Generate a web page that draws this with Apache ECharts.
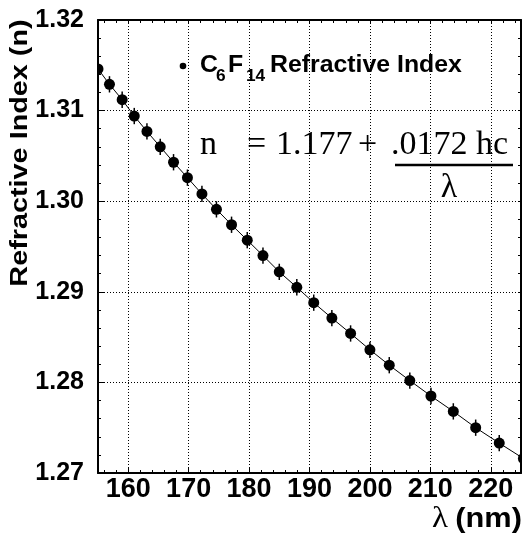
<!DOCTYPE html>
<html>
<head>
<meta charset="utf-8">
<script src="https://cdn.jsdelivr.net/npm/echarts@6/dist/echarts.min.js"></script>
<style>
  html, body { margin: 0; padding: 0; background: #fff; }
  #chart { width: 523px; height: 533px; }
</style>
</head>
<body>
<div id="chart"></div>
<script>
// C6F14 refractive index versus wavelength
const wavelength = [155.0, 156.9, 159.0, 161.0, 163.1, 165.3, 167.5, 169.8, 172.2, 174.6,
                    177.1, 179.7, 182.3, 185.0, 187.9, 190.7, 193.7, 196.8, 200.0, 203.2,
                    206.6, 210.1, 213.8, 217.5, 221.4, 225.4];
const refIndex = [1.3146, 1.3129, 1.3112, 1.3094, 1.3077, 1.3060, 1.3043, 1.3026, 1.3008, 1.2991,
                  1.2974, 1.2957, 1.2940, 1.2922, 1.2905, 1.2888, 1.2871, 1.2854, 1.2836, 1.2819,
                  1.2802, 1.2785, 1.2768, 1.2750, 1.2733, 1.2716];
const refIndexErr = [0.0009, 0.0009, 0.0009, 0.0009, 0.0009, 0.0009, 0.0009, 0.0009, 0.0009, 0.0009,
                     0.0009, 0.0009, 0.0009, 0.0009, 0.0009, 0.0009, 0.0009, 0.0009, 0.0009, 0.0009,
                     0.0009, 0.0009, 0.0009, 0.0009, 0.0009, 0.0009];

// axis tick values
const xMajor = [160, 170, 180, 190, 200, 210, 220];
const xMinor = [156, 158, 160, 162, 164, 166, 168, 170, 172, 174, 176, 178, 180, 182, 184, 186, 188,
                190, 192, 194, 196, 198, 200, 202, 204, 206, 208, 210, 212, 214, 216, 218, 220, 222, 224];
const yMajor = [1.27, 1.28, 1.29, 1.30, 1.31, 1.32];
const yMinor = [1.272, 1.274, 1.276, 1.278, 1.28, 1.282, 1.284, 1.286, 1.288, 1.29, 1.292, 1.294, 1.296, 1.298,
                1.30, 1.302, 1.304, 1.306, 1.308, 1.31, 1.312, 1.314, 1.316, 1.318];

const X_MIN = 155, X_MAX = 225, Y_MIN = 1.27, Y_MAX = 1.32;

const SANS = '"Liberation Sans", Arial, Helvetica, sans-serif';
const SERIF = '"Liberation Serif", "Times New Roman", serif';

const points = wavelength.map((w, i) => [w, refIndex[i], refIndexErr[i]]);
const fitLine = wavelength.map((w, i) => [w, refIndex[i]]);

const axisColor = '#000';
const dotted = { color: '#000', width: 1, type: [1, 2] };

function xAxisBase(extra) {
  return Object.assign({
    type: 'value', min: X_MIN, max: X_MAX,
    axisLine: { show: false, onZero: false },
    axisLabel: { show: false },
    splitLine: { show: false },
    axisTick: { show: false }
  }, extra);
}
function yAxisBase(extra) {
  return Object.assign({
    type: 'value', min: Y_MIN, max: Y_MAX,
    axisLine: { show: false, onZero: false },
    axisLabel: { show: false },
    splitLine: { show: false },
    axisTick: { show: false }
  }, extra);
}

const chart = echarts.init(document.getElementById('chart'), null, { renderer: 'canvas' });

chart.setOption({
  animation: false,
  backgroundColor: '#fff',
  grid: { left: 98, top: 20, right: 2, bottom: 60, containLabel: false },
  xAxis: [
    xAxisBase({
      position: 'bottom',
      axisLine: { show: true, onZero: false, lineStyle: { color: axisColor, width: 2 } },
      axisTick: { show: true, inside: true, length: 6, customValues: xMajor, lineStyle: { color: axisColor, width: 1 } },
      axisLabel: {
        show: true, customValues: xMajor, margin: 3,
        fontFamily: SANS, fontWeight: 'bold', fontSize: 27, color: '#000'
      },
      splitLine: { show: true, lineStyle: dotted }
    }),
    xAxisBase({
      position: 'bottom',
      axisTick: { show: true, inside: true, length: 3, customValues: xMinor, lineStyle: { color: axisColor, width: 1 } }
    }),
    xAxisBase({
      position: 'top',
      axisLine: { show: true, onZero: false, lineStyle: { color: axisColor, width: 2 } },
      axisTick: { show: true, inside: true, length: 3, customValues: xMinor, lineStyle: { color: axisColor, width: 1 } }
    })
  ],
  yAxis: [
    yAxisBase({
      position: 'left',
      axisLine: { show: true, onZero: false, lineStyle: { color: axisColor, width: 2 } },
      axisTick: { show: true, inside: true, length: 6, customValues: yMajor, lineStyle: { color: axisColor, width: 1 } },
      axisLabel: {
        show: true, customValues: yMajor, margin: 14,
        formatter: v => Number(v).toFixed(2),
        fontFamily: SANS, fontWeight: 'bold', fontSize: 25, color: '#000'
      },
      splitLine: { show: true, lineStyle: dotted }
    }),
    yAxisBase({
      position: 'left',
      axisTick: { show: true, inside: true, length: 3, customValues: yMinor, lineStyle: { color: axisColor, width: 1 } }
    }),
    yAxisBase({
      position: 'right',
      axisLine: { show: true, onZero: false, lineStyle: { color: axisColor, width: 2 } },
      axisTick: { show: true, inside: true, length: 3, customValues: yMinor, lineStyle: { color: axisColor, width: 1 } }
    })
  ],
  series: [
    {
      // fitted curve n = 1.177 + 0.0172 hc / lambda, drawn through the measured points
      type: 'line',
      xAxisIndex: 0, yAxisIndex: 0,
      data: fitLine,
      symbol: 'none',
      smooth: false,
      clip: true,
      lineStyle: { color: '#000', width: 1 },
      z: 2
    },
    {
      // measured points with vertical error bars
      type: 'custom',
      xAxisIndex: 0, yAxisIndex: 0,
      data: points,
      clip: true,
      z: 3,
      renderItem: function (params, api) {
        const x = api.value(0), y = api.value(1), e = api.value(2);
        const c = api.coord([x, y]);
        const hi = api.coord([x, y + e]);
        const lo = api.coord([x, y - e]);
        return {
          type: 'group',
          children: [
            { type: 'line', shape: { x1: c[0], y1: hi[1], x2: c[0], y2: lo[1] },
              style: { stroke: '#000', lineWidth: 1.5 } },
            { type: 'circle', shape: { cx: c[0], cy: c[1], r: 5.5 },
              style: { fill: '#000' } }
          ]
        };
      }
    }
  ],
  graphic: [
    // y axis title
    {
      type: 'text', x: 20, y: 153, rotation: Math.PI / 2, scaleX: 1.2,
      style: { text: 'Refractive Index (n)', font: 'bold 24px ' + SANS, fill: '#000',
               align: 'center', verticalAlign: 'middle' }
    },
    // x axis title
    {
      type: 'text', x: 522, y: 519, scaleX: 1.1,
      style: {
        text: '{l|λ}  {b|(nm)}',
        align: 'right', verticalAlign: 'middle',
        rich: {
          l: { fontFamily: SERIF, fontSize: 30, fill: '#000' },
          b: { fontFamily: SANS, fontWeight: 'bold', fontSize: 28, fill: '#000' }
        }
      }
    },
    // legend entry
    { type: 'circle', shape: { cx: 183, cy: 66, r: 3.3 }, style: { fill: '#000' } },
    { type: 'text', x: 200, y: 66, scaleX: 1.08,
      style: { text: 'C', font: 'bold 23px ' + SANS, fill: '#000', align: 'left', verticalAlign: 'middle' } },
    { type: 'text', x: 216, y: 77, scaleX: 1.08,
      style: { text: '6', font: 'bold 16px ' + SANS, fill: '#000', align: 'left', verticalAlign: 'middle' } },
    { type: 'text', x: 228, y: 66, scaleX: 1.08,
      style: { text: 'F', font: 'bold 23px ' + SANS, fill: '#000', align: 'left', verticalAlign: 'middle' } },
    { type: 'text', x: 246, y: 77, scaleX: 1.08,
      style: { text: '14', font: 'bold 16px ' + SANS, fill: '#000', align: 'left', verticalAlign: 'middle' } },
    { type: 'text', x: 270, y: 66, scaleX: 1.08,
      style: { text: 'Refractive Index', font: 'bold 23px ' + SANS, fill: '#000', align: 'left', verticalAlign: 'middle' } },
    // fit formula
    { type: 'text', x: 200, y: 145,
      style: { text: 'n', font: '34px ' + SERIF, fill: '#000', align: 'left', verticalAlign: 'middle' } },
    { type: 'text', x: 247, y: 145,
      style: { text: '=', font: '34px ' + SERIF, fill: '#000', align: 'left', verticalAlign: 'middle' } },
    { type: 'text', x: 276, y: 145,
      style: { text: '1.177', font: '34px ' + SERIF, fill: '#000', align: 'left', verticalAlign: 'middle' } },
    { type: 'text', x: 358, y: 145,
      style: { text: '+', font: '34px ' + SERIF, fill: '#000', align: 'left', verticalAlign: 'middle' } },
    { type: 'text', x: 391, y: 145,
      style: { text: '.0172 hc', font: '34px ' + SERIF, fill: '#000', align: 'left', verticalAlign: 'middle' } },
    { type: 'line', shape: { x1: 395, y1: 165, x2: 513, y2: 165 }, style: { stroke: '#000', lineWidth: 2.5 } },
    { type: 'text', x: 449, y: 188,
      style: { text: 'λ', font: '34px ' + SERIF, fill: '#000', align: 'center', verticalAlign: 'middle' } }
  ]
});
</script>
</body>
</html>
